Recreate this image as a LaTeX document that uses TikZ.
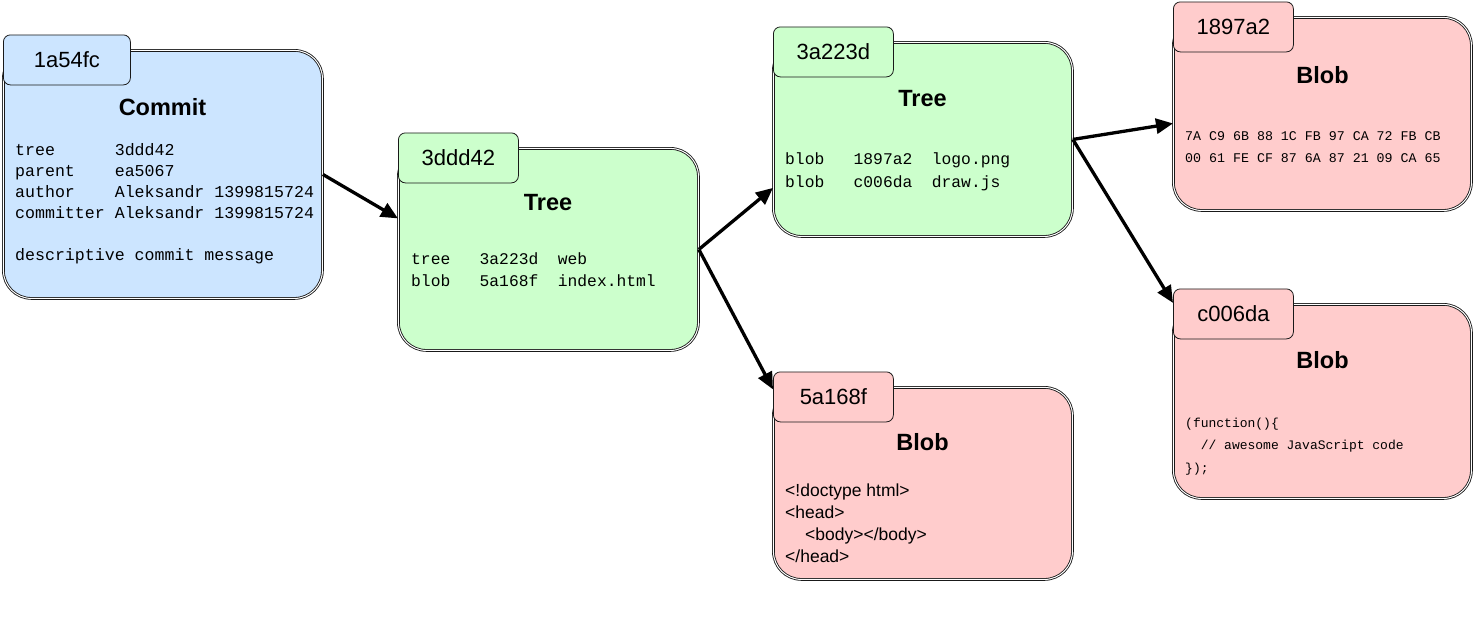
\documentclass[tikz,border=0pt]{standalone}
\usepackage{fontspec}
\setmainfont{Liberation Sans}
\setmonofont{Liberation Mono}
\usepackage{tikz}
\usetikzlibrary{arrows.meta}

\definecolor{commitblue}{HTML}{CCE5FF}
\definecolor{treegreen}{HTML}{CCFFCC}
\definecolor{blobred}{HTML}{FFCCCC}

\tikzset{
	body/.style={draw=black!90, double=white, double distance=1pt, line width=0.85pt, rounded corners=28pt, inner sep=0pt, anchor=north west},
	hashtab/.style={draw=black!90, line width=0.8pt, rounded corners=7pt, minimum height=50pt, inner sep=0pt, anchor=north west, font=\fontsize{22}{26}\selectfont},
	kind/.style={anchor=base, font=\fontsize{23.5}{28}\selectfont\bfseries},
	code/.style={anchor=base west, align=left, inner sep=0pt},
	link/.style={line width=3.3pt, -{Triangle[length=17pt,width=15pt]}}
}

\begin{document}
\begin{tikzpicture}[x=1pt,y=-1pt]
	\useasboundingbox (0,0) rectangle (1473,640);
	% Boxes with their hash tabs
	\foreach \n/\x/\y/\w/\h/\col/\hash/\tw in {c1/3/50/319/248/commitblue/1a54fc/127, t1/398/148/300/202/treegreen/3ddd42/120, t2/773/42/299/194/treegreen/3a223d/120, b1/773/387/299/192/blobred/5a168f/120, b2/1173/17/298/193/blobred/1897a2/120, b3/1173/304/298/194/blobred/c006da/120}{
		\node[body, fill=\col, minimum width=\w pt, minimum height=\h pt] (\n) at (\x,\y) {};
		\node[hashtab, fill=\col, minimum width=\tw pt] (\n-tab) at (\x,\y-15.5) {\hash};}
	% Titles
	\node[kind] (c1-kind) at (162.5,115.5) {Commit};
	\node[kind] (t1-kind) at (548,210.5) {Tree};
	\node[kind] (t2-kind) at (922.5,106) {Tree};
	\node[kind] (b1-kind) at (922.5,450) {Blob};
	\node[kind] (b2-kind) at (1322.5,83) {Blob};
	\node[kind] (b3-kind) at (1322.5,368) {Blob};
	% Contents (anchored at the baseline of the last line)
	\node[code, font=\fontsize{16.6}{21}\selectfont\ttfamily] (c1-text) at (15,260) {tree~~~~~~3ddd42\\parent~~~~ea5067\\author~~~~Aleksandr~1399815724\\committer~Aleksandr~1399815724\\[21pt]descriptive~commit~message};
	\node[code, font=\fontsize{16.3}{22}\selectfont\ttfamily] (t1-text) at (411,286) {tree~~~3a223d~~web\\blob~~~5a168f~~index.html};
	\node[code, font=\fontsize{16.3}{23}\selectfont\ttfamily] (t2-text) at (785,187) {blob~~~1897a2~~logo.png\\blob~~~c006da~~draw.js};
	\node[code, font=\fontsize{17.5}{21.7}\selectfont] (b1-text) at (785,562) {<!doctype html>\\<head>\\\hspace*{20pt}<body></body>\\</head>};
	\node[code, font=\fontsize{13.3}{22}\selectfont\ttfamily] (b2-text) at (1185,162) {7A~C9~6B~88~1C~FB~97~CA~72~FB~CB\\00~61~FE~CF~87~6A~87~21~09~CA~65};
	\node[code, font=\fontsize{13}{22.5}\selectfont\ttfamily] (b3-text) at (1185,472) {(function()\{\\~~//~awesome~JavaScript~code\\\});};
	% Links
	\draw[link] (c1.east) -- ([yshift=31pt]t1.west);
	\draw[link] (t1.east) -- ([yshift=-48.5pt]t2.west);
	\draw[link] (t1.east) -- ([yshift=7.5pt]b1-tab.west);
	\draw[link] (t2.east) -- ([yshift=-9.5pt]b2.west);
	\draw[link] (t2.east) -- ([yshift=11pt]b3-tab.west);
\end{tikzpicture}
\end{document}
